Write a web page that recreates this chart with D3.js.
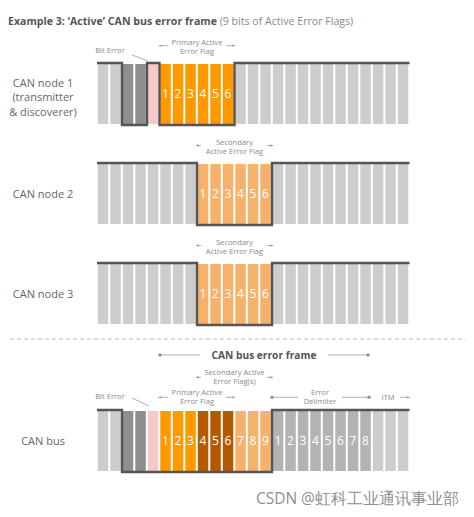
<!DOCTYPE html>
<html><head><meta charset="utf-8">
<script src="https://cdn.jsdelivr.net/npm/d3@7"></script>
<style>body{margin:0;background:#fff}svg{display:block}text{font-family:"Open Sans",sans-serif}</style>
</head><body><svg id="c" width="474" height="517"></svg>
<script>
// ---------- data ----------
const bitCount = 25;
// fill codes: g light grey, d dark grey, p pink, o orange, O dark orange, l light orange, m mid grey
const node1Fill  = ["g","g","d","d","p","o","o","o","o","o","o","g","g","g","g","g","g","g","g","g","g","g","g","g","g"];
const node1Level = [1,1,0,0,1,0,0,0,0,0,0,1,1,1,1,1,1,1,1,1,1,1,1,1,1];
const node1Num   = ["","","","","","1","2","3","4","5","6","","","","","","","","","","","","","",""];
const node2Fill  = ["g","g","g","g","g","g","g","g","l","l","l","l","l","l","g","g","g","g","g","g","g","g","g","g","g"];
const node2Level = [1,1,1,1,1,1,1,1,0,0,0,0,0,0,1,1,1,1,1,1,1,1,1,1,1];
const node2Num   = ["","","","","","","","","1","2","3","4","5","6","","","","","","","","","","",""];
const node3Fill  = ["g","g","g","g","g","g","g","g","l","l","l","l","l","l","g","g","g","g","g","g","g","g","g","g","g"];
const node3Level = [1,1,1,1,1,1,1,1,0,0,0,0,0,0,1,1,1,1,1,1,1,1,1,1,1];
const node3Num   = ["","","","","","","","","1","2","3","4","5","6","","","","","","","","","","",""];
const busFill    = ["g","g","d","d","p","o","o","o","O","O","O","l","l","l","m","m","m","m","m","m","m","m","g","g","g"];
const busLevel   = [1,1,0,0,0,0,0,0,0,0,0,0,0,0,1,1,1,1,1,1,1,1,1,1,1];
const busNum     = ["","","","","","1","2","3","4","5","6","7","8","9","1","2","3","4","5","6","7","8","","",""];
const rowLabels  = [["CAN node 1","(transmitter","& discoverer)"],["CAN node 2"],["CAN node 3"],["CAN bus"]];
const titleBold  = "Example 3: \u2018Active\u2019 CAN bus error frame";
const titleRest  = " (9 bits of Active Error Flags)";
const watermark  = "CSDN @虹科工业通讯事业部";

// ---------- styles ----------
const colors = {g:"#cdcdcd", d:"#8e8e8e", p:"#f5c9c9", o:"#ff9900", O:"#b35a00", l:"#f6b26b", m:"#b3b3b3"};
const svg = d3.select("#c");
const x = d3.scaleLinear().domain([0, bitCount]).range([97, 409.5]);
const rows = [
  {top:63,  fill:node1Fill, level:node1Level, num:node1Num},
  {top:163, fill:node2Fill, level:node2Level, num:node2Num},
  {top:263, fill:node3Fill, level:node3Level, num:node3Num},
  {top:410, fill:busFill,   level:busLevel,   num:busNum}
];
const H = 62;

// marker
const defs = svg.append("defs");
defs.append("marker").attr("id","ah").attr("viewBox","0 0 6 6").attr("refX",5).attr("refY",3)
  .attr("markerWidth",4).attr("markerHeight",4).attr("orient","auto")
  .append("path").attr("d","M0,0.8L5,3L0,5.2Z").attr("fill","#999");

// title
const t = svg.append("text").attr("x",8).attr("y",25).attr("font-size",10.6);
t.append("tspan").attr("font-weight",700).attr("fill","#555").text(titleBold);
t.append("tspan").attr("fill","#8a8a8a").text(titleRest);

rows.forEach((r, ri) => {
  const g = svg.append("g");
  const bits = d3.range(bitCount);
  g.selectAll("rect").data(bits).join("rect")
    .attr("x", i => x(i) + 0.8)
    .attr("width", i => x(i+1) - x(i) - 2)
    .attr("y", r.top + 1)
    .attr("height", H - 2)
    .attr("fill", i => colors[r.fill[i]]);
  g.selectAll("text.n").data(bits.filter(i => r.num[i] !== "")).join("text")
    .attr("class","n")
    .attr("x", i => x(i+0.5) - 0.2)
    .attr("y", r.top + 31)
    .attr("dy","0.36em")
    .attr("text-anchor","middle")
    .attr("font-size",12)
    .attr("fill","#fff")
    .text(i => r.num[i]);
  const yl = l => l ? r.top : r.top + H;
  const pts = bits.map(i => [x(i), yl(r.level[i])]);
  pts.push([x(bitCount), yl(r.level[bitCount-1])]);
  g.append("path").attr("d", d3.line().curve(d3.curveStepAfter)(pts))
    .attr("fill","none").attr("stroke","#555").attr("stroke-width",2.4);
  // row label
  const lines = rowLabels[ri];
  const cy = r.top + 31;
  const lh = 14.5;
  const y0 = cy - (lines.length - 1) * lh / 2 + (ri === 0 ? -1 - lh/2 + 6 : 0);
  lines.forEach((s, k) => {
    svg.append("text").attr("x",43).attr("y", (ri===0 ? 83 : cy) + k*lh).attr("dy","0.35em")
      .attr("text-anchor","middle").attr("font-size",11).attr("fill","#666").text(s);
  });
});

// annotation helpers
const annFont = 7.6, annCol = "#8a8a8a";
function label(lines, cx, y1) {
  lines.forEach((s, k) => svg.append("text").attr("x",cx).attr("y",y1 + k*9).attr("dy","0.35em")
    .attr("text-anchor","middle").attr("font-size",annFont).attr("fill",annCol).text(s));
}
function arrow(x1, x2, y) {
  svg.append("line").attr("x1",x1).attr("x2",x2).attr("y1",y).attr("y2",y)
    .attr("stroke","#999").attr("stroke-width",0.8).attr("marker-end","url(#ah)");
}
function dotLine(x1, x2, y, dotAt) {
  svg.append("line").attr("x1",x1).attr("x2",x2).attr("y1",y).attr("y2",y)
    .attr("stroke","#999").attr("stroke-width",0.8);
  svg.append("circle").attr("cx",dotAt).attr("cy",y).attr("r",1.8).attr("fill","#999");
}
function slant(x1,y1,x2,y2){
  svg.append("line").attr("x1",x1).attr("y1",y1).attr("x2",x2).attr("y2",y2)
    .attr("stroke","#999").attr("stroke-width",0.8);
}

// node 1 annotations
label(["Bit Error"], 110, 50);
slant(132, 55, x(4)+1, 61);
label(["Primary Active","Error Flag"], (x(5)+x(11))/2, 42.7);
arrow(168, x(5)-0.5, 45.7);
arrow(226, x(11)+0.5, 45.7);

// node 2 / 3 annotations
[163, 263].forEach(top => {
  label(["Secondary","Active Error Flag"], (x(8)+x(14))/2, top - 21);
  arrow(201, x(8)-1, top - 17.5);
  arrow(267, x(14)+1, top - 17.5);
});

// separator
svg.append("line").attr("x1",10).attr("x2",466).attr("y1",339).attr("y2",339)
  .attr("stroke","#bbb").attr("stroke-width",1).attr("stroke-dasharray","4,3");

// CAN bus error frame heading
svg.append("text").attr("x",264).attr("y",355).attr("dy","0.35em").attr("text-anchor","middle")
  .attr("font-size",10.2).attr("font-weight",700).attr("fill","#555").text("CAN bus error frame");
dotLine(160, 200, 355, 160);
dotLine(328, 368, 355, 368);

// bus annotations
label(["Secondary Active","Error Flag(s)"], (x(8)+x(14))/2, 372.7);
arrow(201, x(8)-1, 377.3);
arrow(267, x(14)+1, 377.3);
label(["Primary Active","Error Flag"], (x(5)+x(11))/2, 392.7);
arrow(168, x(5)-1, 397.3);
arrow(226, x(11)+0.5, 397.3);
label(["Bit Error"], 110, 396);
slant(132, 398, x(4)+2, 406);
label(["Error","Delimiter"], (x(14)+x(22))/2 - 2, 392.7);
dotLine(x(14), 298, 397.3, x(14));
dotLine(342, x(22)-3, 397.3, x(22)-3);
label(["ITM"], 388, 397.3);
arrow(400, x(25), 397.3);

// watermark
svg.append("text").attr("x",459).attr("y",504).attr("text-anchor","end")
  .attr("font-family","'Noto Sans CJK SC',sans-serif").attr("font-size",15.5).attr("fill","#8f8f8f")
  .text(watermark);
</script></body></html>
